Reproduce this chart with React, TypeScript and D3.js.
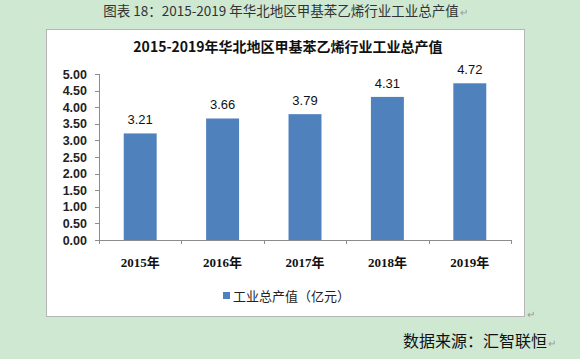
import React from 'react'
import { scaleBand, scaleLinear } from 'd3'

const years = ['2015年', '2016年', '2017年', '2018年', '2019年']
const output = [3.21, 3.66, 3.79, 4.31, 4.72]
const yTicks = [0, 0.5, 1, 1.5, 2, 2.5, 3, 3.5, 4, 4.5, 5]

const App = () => {
  const W = 580
  const H = 359
  const plot = { left: 99, right: 511, top: 74, bottom: 240 }

  const scaleX = scaleBand()
    .domain(years)
    .range([plot.left, plot.right])
    .paddingInner(0.6)
    .paddingOuter(0.3)
  const scaleY = scaleLinear().domain([0, 5]).range([plot.bottom, plot.top])

  const step = scaleX.step()
  const bounds = years.map((_, i) => plot.left + i * step).concat([plot.right])

  const sans = '"Liberation Sans", Arial, "Noto Sans CJK SC", sans-serif'
  const cjk = '"Noto Sans CJK SC", sans-serif'
  const axisColor = '#8c8c8c'

  return (
    <svg width={W} height={H} style={{ position: 'absolute', left: 0, top: 0 }}>
      <rect x={0} y={0} width={W} height={H} fill="#cfe8d1" />
      <text x={281} y={16} textAnchor="middle" fontSize={13.5} fill="#333" fontFamily={cjk}>
        图表  18：2015-2019 年华北地区甲基苯乙烯行业工业总产值
      </text>
      <text x={460} y={16} fontSize={10} fill="#999" fontFamily={sans}>↵</text>

      <rect x={46.5} y={29.5} width={478} height={287} fill="#fff" stroke="#b5b5b5" />
      <text x={527} y={318} fontSize={10} fill="#999" fontFamily={sans}>↵</text>

      <text x={288} y={52} textAnchor="middle" fontSize={14} fontWeight="bold" fill="#111" fontFamily={cjk}>
        2015-2019年华北地区甲基苯乙烯行业工业总产值
      </text>

      {/* y axis */}
      <line x1={plot.left + 0.5} x2={plot.left + 0.5} y1={plot.top} y2={plot.bottom} stroke={axisColor} />
      {yTicks.map((t) => (
        <g key={`yt-${t}`}>
          <line x1={plot.left - 4} x2={plot.left} y1={Math.round(scaleY(t)) + 0.5} y2={Math.round(scaleY(t)) + 0.5} stroke={axisColor} />
          <text x={plot.left - 12} y={scaleY(t) + 4.5} textAnchor="end" fontSize={12.5} fontWeight="bold" fill="#222" fontFamily={sans}>
            {t.toFixed(2)}
          </text>
        </g>
      ))}

      {/* x axis */}
      <line x1={plot.left} x2={plot.right} y1={plot.bottom + 0.5} y2={plot.bottom + 0.5} stroke={axisColor} />
      {bounds.map((b, i) => (
        <line key={`xt-${i}`} x1={Math.round(b) + 0.5} x2={Math.round(b) + 0.5} y1={plot.bottom} y2={plot.bottom + 4} stroke={axisColor} />
      ))}

      {years.map((y, i) => (
        <g key={`bar-${y}`}>
          <rect
            x={scaleX(y)}
            y={scaleY(output[i])}
            width={scaleX.bandwidth()}
            height={plot.bottom - scaleY(output[i])}
            fill="#4f81bd"
          />
          <text
            x={scaleX(y)! + scaleX.bandwidth() / 2}
            y={scaleY(output[i]) - 9}
            textAnchor="middle"
            fontSize={13}
            fill="#111"
            fontFamily={sans}
          >
            {output[i].toFixed(2)}
          </text>
          <text
            x={scaleX(y)! + scaleX.bandwidth() / 2}
            y={267}
            textAnchor="middle"
            fontSize={13}
            fontWeight="bold"
            fill="#111"
            fontFamily={'"Liberation Serif", "Noto Sans CJK SC", serif'}
          >
            {y}
          </text>
        </g>
      ))}

      {/* legend */}
      <rect x={223} y={292} width={7} height={7} fill="#4f81bd" />
      <text x={233} y={301} fontSize={13} fill="#222" fontFamily={cjk}>
        工业总产值（亿元）
      </text>

      <text x={547} y={347} textAnchor="end" fontSize={16} fill="#111" fontFamily={cjk}>
        数据来源：汇智联恒
      </text>
      <text x={548} y={347} fontSize={10} fill="#999" fontFamily={sans}>↵</text>
    </svg>
  )
}

export default App
